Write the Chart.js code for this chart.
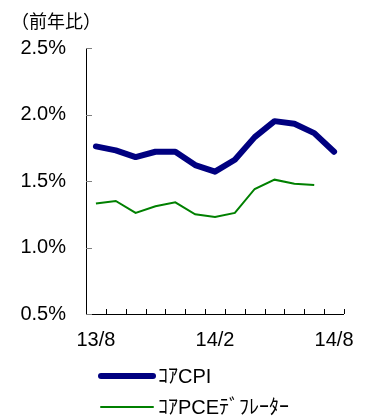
<!DOCTYPE html>
<html>
<head>
<meta charset="utf-8">
<script src="https://cdn.jsdelivr.net/npm/chart.js@4/dist/chart.umd.min.js"></script>
<style>
  html, body { margin: 0; padding: 0; background: #ffffff; }
  #wrap { width: 368px; height: 416px; position: relative; }
</style>
</head>
<body>
<div id="wrap"><canvas id="c" width="368" height="416"></canvas></div>
<script>
// Monthly periods, Aug 2013 – Aug 2014
const months = ["13/8","13/9","13/10","13/11","13/12","14/1","14/2","14/3","14/4","14/5","14/6","14/7","14/8"];
// Labels actually printed under the axis
const shownMonths = ["13/8","14/2","14/8"];
// Year-on-year change, %
const coreCPI = [1.76,1.73,1.68,1.72,1.72,1.62,1.57,1.66,1.83,1.95,1.93,1.86,1.72];
const corePCE = [1.33,1.35,1.26,1.31,1.34,1.25,1.23,1.26,1.44,1.51,1.48,1.47,null];
// Y axis range and step
const yMin = 0.5, yMax = 2.5, yStep = 0.5;

const FONT = "'Liberation Sans', Arial, 'Noto Sans CJK JP', sans-serif";
const JP_FONT = "'Noto Sans CJK JP', 'Liberation Sans', sans-serif";

// Small tick marks drawn on the inside of both axes, plus the unit caption
const innerTicks = {
  id: 'innerTicks',
  afterDatasetsDraw(chart) {
    const ctx = chart.ctx;
    const x = chart.scales.x, y = chart.scales.y;
    const area = chart.chartArea;
    ctx.save();
    ctx.lineWidth = 1;
    ctx.strokeStyle = '#000000';
    ctx.beginPath();
    for (let i = 0; i <= chart.data.labels.length; i++) {
      const px = Math.round(x.getPixelForValue(i - 0.5)) + 0.5;
      ctx.moveTo(px, area.bottom);
      ctx.lineTo(px, area.bottom - 5);
    }
    ctx.stroke();
    ctx.strokeStyle = '#808080';
    ctx.beginPath();
    y.ticks.forEach(t => {
      const py = Math.round(y.getPixelForValue(t.value)) + 0.5;
      ctx.moveTo(area.left, py);
      ctx.lineTo(area.left + 6, py);
    });
    ctx.stroke();
    ctx.restore();
  },
  afterDraw(chart) {
    const ctx = chart.ctx;
    ctx.save();
    ctx.fillStyle = '#000000';
    ctx.font = '18px ' + JP_FONT;
    ctx.textBaseline = 'middle';
    ctx.textAlign = 'left';
    ctx.fillText('（前年比）', 11, 21);
    ctx.restore();
  }
};

// Stacked legend below the axis, built from the datasets
const stackedLegend = {
  id: 'stackedLegend',
  afterDraw(chart) {
    const ctx = chart.ctx;
    const rows = [376, 407];
    ctx.save();
    chart.data.datasets.forEach((ds, i) => {
      const yy = rows[i];
      ctx.strokeStyle = ds.borderColor;
      ctx.lineWidth = ds.borderWidth;
      ctx.lineCap = 'round';
      ctx.beginPath();
      ctx.moveTo(101, yy);
      ctx.lineTo(153, yy);
      ctx.stroke();
      ctx.fillStyle = '#000000';
      ctx.font = '20px ' + FONT;
      ctx.textBaseline = 'middle';
      ctx.textAlign = 'left';
      ctx.fillText(ds.label, 158, yy + 1);
    });
    ctx.restore();
  }
};

new Chart(document.getElementById('c'), {
  type: 'line',
  data: {
    labels: months,
    datasets: [
      {
        label: 'ｺｱCPI',
        data: coreCPI,
        borderColor: '#000080',
        borderWidth: 6,
        pointRadius: 0,
        tension: 0,
        borderJoinStyle: 'round',
        borderCapStyle: 'round'
      },
      {
        label: 'ｺｱPCEﾃﾞﾌﾚｰﾀｰ',
        data: corePCE,
        borderColor: '#008000',
        borderWidth: 2,
        pointRadius: 0,
        tension: 0
      }
    ]
  },
  options: {
    responsive: false,
    animation: false,
    devicePixelRatio: 1,
    layout: { padding: { top: 48, right: 12, left: 0, bottom: 0 } },
    plugins: {
      legend: { display: false },
      title: { display: false },
      tooltip: { enabled: false }
    },
    scales: {
      x: {
        type: 'category',
        offset: true,
        grid: { display: false, offset: true, drawTicks: false },
        border: { display: true, color: '#000000', width: 1 },
        ticks: {
          autoSkip: false,
          maxRotation: 0,
          minRotation: 0,
          padding: 14,
          color: '#000000',
          font: { family: FONT, size: 20 },
          callback(value, index) {
            const lab = months[index];
            return shownMonths.includes(lab) ? lab : '';
          }
        },
        afterFit(scale) { scale.height = 102; }
      },
      y: {
        min: yMin,
        max: yMax,
        grid: { display: false, drawTicks: false },
        border: { display: true, color: '#000000', width: 1 },
        ticks: {
          stepSize: yStep,
          padding: 20,
          color: '#000000',
          font: { family: FONT, size: 20 },
          callback(v) { return v.toFixed(1) + '%'; }
        },
        afterFit(scale) { scale.width = 86; }
      }
    }
  },
  plugins: [innerTicks, stackedLegend]
});
</script>
</body>
</html>
